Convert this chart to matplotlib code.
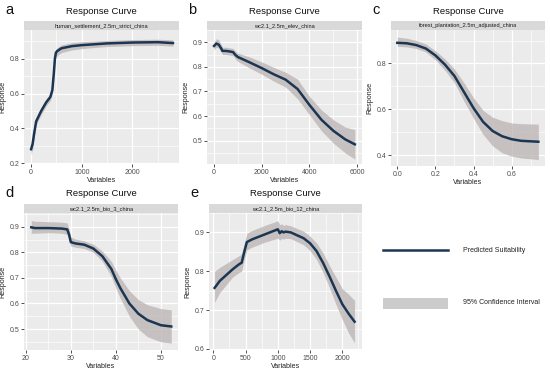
import matplotlib.pyplot as plt
import numpy as np
from matplotlib.patches import Rectangle
from matplotlib.lines import Line2D
from matplotlib.ticker import MultipleLocator

plt.rcParams['font.family'] = ['Liberation Sans', 'DejaVu Sans']

# ---- data ----
a_names = 'human_settlement_2.5m_strict_china'
a_x = [0, 30, 60, 100, 150, 200, 300, 380, 420, 450, 470, 490, 520, 600, 800, 1000, 1500, 2000, 2500, 2800]
a_y = [0.28, 0.31, 0.37, 0.44, 0.47, 0.50, 0.55, 0.58, 0.62, 0.72, 0.80, 0.835, 0.845, 0.86, 0.872, 0.878, 0.888, 0.893, 0.895, 0.89]
a_lo = [0.25, 0.28, 0.34, 0.42, 0.45, 0.48, 0.53, 0.56, 0.60, 0.70, 0.78, 0.81, 0.82, 0.835, 0.85, 0.858, 0.87, 0.875, 0.877, 0.872]
a_hi = [0.31, 0.34, 0.40, 0.46, 0.49, 0.52, 0.57, 0.60, 0.64, 0.74, 0.82, 0.855, 0.865, 0.88, 0.892, 0.898, 0.905, 0.91, 0.912, 0.908]

b_names = 'wc2.1_2.5m_elev_china'
b_x = [0, 100, 200, 300, 350, 500, 700, 800, 900, 1000, 1500, 2000, 2500, 3000, 3500, 4000, 4500, 5000, 5500, 5900]
b_y = [0.885, 0.895, 0.89, 0.875, 0.865, 0.865, 0.862, 0.86, 0.848, 0.84, 0.818, 0.795, 0.77, 0.748, 0.71, 0.645, 0.585, 0.54, 0.505, 0.485]
b_lo = [0.87, 0.88, 0.875, 0.86, 0.85, 0.85, 0.847, 0.845, 0.832, 0.822, 0.795, 0.77, 0.742, 0.718, 0.67, 0.605, 0.54, 0.49, 0.45, 0.425]
b_hi = [0.9, 0.915, 0.91, 0.89, 0.88, 0.88, 0.877, 0.875, 0.863, 0.856, 0.84, 0.82, 0.798, 0.778, 0.75, 0.68, 0.625, 0.585, 0.555, 0.545]

c_names = 'forest_plantation_2.5m_adjusted_china'
c_x = [0.0, 0.05, 0.1, 0.15, 0.2, 0.25, 0.3, 0.35, 0.4, 0.45, 0.5, 0.55, 0.6, 0.65, 0.74]
c_y = [0.89, 0.888, 0.88, 0.865, 0.835, 0.795, 0.745, 0.675, 0.605, 0.545, 0.505, 0.482, 0.469, 0.462, 0.458]
c_lo = [0.875, 0.872, 0.865, 0.85, 0.815, 0.77, 0.715, 0.635, 0.56, 0.49, 0.44, 0.41, 0.395, 0.387, 0.38]
c_hi = [0.915, 0.91, 0.9, 0.885, 0.855, 0.82, 0.775, 0.715, 0.65, 0.595, 0.565, 0.55, 0.54, 0.537, 0.535]

d_names = 'wc2.1_2.5m_bio_3_china'
d_x = [21.2, 22, 25, 28, 29.2, 29.6, 30, 31, 33, 35, 37, 39, 40, 41, 43, 45, 47, 50, 52.3]
d_y = [0.898, 0.895, 0.895, 0.893, 0.89, 0.87, 0.84, 0.835, 0.83, 0.815, 0.785, 0.735, 0.695, 0.66, 0.6, 0.56, 0.535, 0.515, 0.51]
d_lo = [0.875, 0.875, 0.877, 0.875, 0.87, 0.85, 0.825, 0.82, 0.815, 0.8, 0.765, 0.705, 0.66, 0.62, 0.55, 0.5, 0.47, 0.45, 0.445]
d_hi = [0.925, 0.922, 0.92, 0.918, 0.915, 0.89, 0.86, 0.852, 0.845, 0.832, 0.805, 0.765, 0.73, 0.7, 0.65, 0.615, 0.595, 0.58, 0.575]

e_names = 'wc2.1_2.5m_bio_12_china'
e_x = [20, 100, 200, 300, 400, 440, 480, 520, 600, 800, 1000, 1030, 1060, 1090, 1120, 1200, 1400, 1500, 1600, 1700, 1800, 1900, 2000, 2100, 2190]
e_y = [0.757, 0.775, 0.79, 0.805, 0.818, 0.822, 0.85, 0.875, 0.882, 0.895, 0.908, 0.898, 0.903, 0.9, 0.902, 0.9, 0.885, 0.872, 0.852, 0.822, 0.787, 0.75, 0.715, 0.69, 0.67]
e_lo = [0.72, 0.745, 0.765, 0.785, 0.797, 0.8, 0.83, 0.855, 0.862, 0.875, 0.885, 0.88, 0.884, 0.883, 0.885, 0.884, 0.868, 0.853, 0.83, 0.797, 0.758, 0.715, 0.675, 0.64, 0.615]
e_hi = [0.8, 0.81, 0.82, 0.83, 0.84, 0.845, 0.872, 0.898, 0.905, 0.918, 0.93, 0.92, 0.922, 0.918, 0.92, 0.917, 0.903, 0.89, 0.873, 0.847, 0.815, 0.785, 0.755, 0.74, 0.725]

W, H = 550, 371
LINE = '#1b3652'
BAND = '#b8b0b0'


def px_axes(fig, x0, x1, y0, y1):
    return fig.add_axes([x0 / W, 1 - y1 / H, (x1 - x0) / W, (y1 - y0) / H])


def panel(fig, box, letter, name, x, y, lo, hi, xlim, ylim, xmaj, ymaj):
    x0, x1, y0, y1 = box
    ax = px_axes(fig, x0, x1, y0, y1)
    ax.set_facecolor('#ebebeb')
    ax.fill_between(x, lo, hi, color=BAND, alpha=0.72, lw=0, zorder=2)
    ax.plot(x, y, color=LINE, lw=1.8, zorder=3)
    ax.set_xlim(*xlim)
    ax.set_ylim(*ylim)
    ax.xaxis.set_major_locator(MultipleLocator(xmaj))
    ax.xaxis.set_minor_locator(MultipleLocator(xmaj / 2))
    ax.yaxis.set_major_locator(MultipleLocator(ymaj))
    ax.yaxis.set_minor_locator(MultipleLocator(ymaj / 2))
    ax.grid(which='major', color='white', lw=0.9, zorder=0)
    ax.grid(which='minor', color='white', lw=0.45, zorder=0)
    ax.set_axisbelow(True)
    for s in ax.spines.values():
        s.set_visible(False)
    ax.tick_params(which='major', length=2, width=0.6, color='#333333',
                   labelsize=5, labelcolor='#4d4d4d', pad=1.5)
    ax.tick_params(which='minor', length=0)
    ax.set_xlabel('Variables', fontsize=5.1, color='#222222', labelpad=1)
    ax.set_ylabel('Response', fontsize=5.1, color='#222222', labelpad=2)
    # strip on top
    st = px_axes(fig, x0, x1, y0 - 9, y0)
    st.set_facecolor('#d9d9d9')
    st.set_xticks([])
    st.set_yticks([])
    for s in st.spines.values():
        s.set_visible(False)
    st.text(0.5, 0.5, name, ha='center', va='center', fontsize=4.1, color='#1a1a1a')
    fig.text((x0 + x1) / 2 / W, 1 - (y0 - 19) / H, 'Response Curve',
             ha='center', va='center', fontsize=6.8, color='#111111')
    fig.text((x0 - 19) / W, 1 - (y0 - 20) / H, letter,
             ha='left', va='center', fontsize=10.5, color='#111111')
    return ax


fig = plt.figure(figsize=(5.5, 3.71), dpi=100)
fig.patch.set_facecolor('white')

panel(fig, (24, 179, 30, 164), 'a', a_names, a_x, a_y, a_lo, a_hi,
      (-140, 2920), (0.195, 0.965), 1000, 0.2)
panel(fig, (207, 362, 30, 164), 'b', b_names, b_x, b_y, b_lo, b_hi,
      (-295, 6200), (0.405, 0.95), 2000, 0.1)
panel(fig, (391, 545, 30, 166), 'c', c_names, c_x, c_y, c_lo, c_hi,
      (-0.033, 0.775), (0.352, 0.946), 0.2, 0.2)
panel(fig, (24, 178, 213, 350), 'd', d_names, d_x, d_y, d_lo, d_hi,
      (19.6, 53.8), (0.418, 0.954), 10, 0.1)
panel(fig, (209, 362, 213, 350), 'e', e_names, e_x, e_y, e_lo, e_hi,
      (-67, 2305), (0.597, 0.95), 500, 0.1)

# legend drawn by hand in figure coords
fig.add_artist(Line2D([383 / W, 448 / W], [1 - 250 / H, 1 - 250 / H],
                      color=LINE, lw=1.8))
fig.text(463 / W, 1 - 250 / H, 'Predicted Suitability', fontsize=5.0,
         va='center', color='#222222')
fig.add_artist(Rectangle((383 / W, 1 - 309 / H), 65 / W, 11 / H,
                         transform=fig.transFigure, color='#cccccc', lw=0))
fig.text(463 / W, 1 - 303 / H, '95% Confidence Interval', fontsize=5.0,
         va='center', color='#222222')

fig.savefig('out.png', dpi=100)
